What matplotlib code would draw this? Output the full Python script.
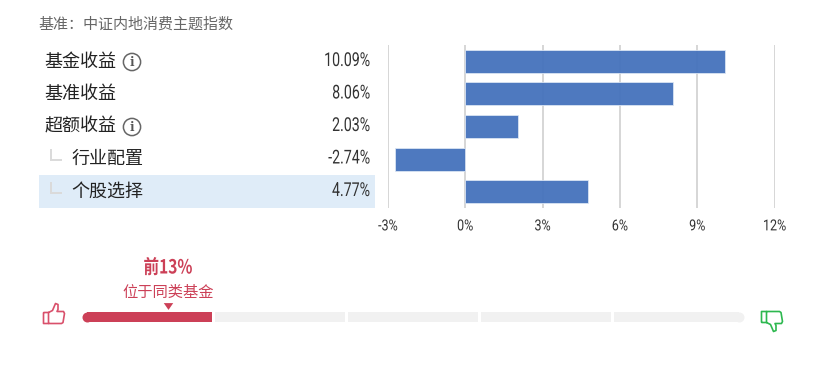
import matplotlib
matplotlib.use("Agg")
import matplotlib.pyplot as plt
from matplotlib.patches import Circle, PathPatch, Rectangle
from matplotlib.path import Path
from matplotlib.patheffects import AbstractPathEffect
from matplotlib.transforms import Affine2D

W, H = 834, 366
CJK = ['Noto Sans CJK SC', 'DejaVu Sans']
NUM = ['Roboto', 'Noto Sans CJK SC']

# ---- data ----
benchmark = "基准：中证内地消费主题指数"
labels = ["基金收益", "基准收益", "超额收益", "行业配置", "个股选择"]
values = [10.09, 8.06, 2.03, -2.74, 4.77]
value_labels = ["10.09%", "8.06%", "2.03%", "-2.74%", "4.77%"]
xticks = [-3, 0, 3, 6, 9, 12]
xtick_labels = ["-3%", "0%", "3%", "6%", "9%", "12%"]
rank_pct = 13
rank_title = "前13%"
rank_sub = "位于同类基金"
seg_starts = [0, 20.09, 40.18, 60.27, 80.36]
seg_width = 19.64


class Narrow(AbstractPathEffect):
    """Condense a real text horizontally about a fixed display x."""
    def __init__(self, anchor, sx):
        super().__init__()
        self.anchor, self.sx = anchor, sx

    def draw_path(self, renderer, gc, tpath, affine, rgbFace=None):
        t = affine + Affine2D().translate(-self.anchor, 0).scale(self.sx, 1).translate(self.anchor, 0)
        renderer.draw_path(gc, tpath, t, rgbFace)


fig = plt.figure(figsize=(W / 100, H / 100), dpi=100, facecolor='white')


def axpx(x0, y0, x1, y1):
    return fig.add_axes([x0 / W, 1 - y1 / H, (x1 - x0) / W, (y1 - y0) / H])


# overlay in pixel coordinates for table text and icons
ov = fig.add_axes([0, 0, 1, 1], zorder=0)
ov.set_xlim(0, W); ov.set_ylim(H, 0); ov.axis('off')

row_c = [60.5, 93, 125.5, 158, 190.5]
ov.add_patch(Rectangle((39, 175), 336, 33, fc='#DFECF8', ec='none'))
ov.text(38.5, 25, benchmark, family=CJK, fontsize=10.8, color='#666666', va='center', ha='left')
for i, (lab, vl) in enumerate(zip(labels, value_labels)):
    x = 44.5 if i < 3 else 71.5
    ov.text(x, row_c[i] + 1, lab, family=CJK, fontsize=13, color='#222222', va='center', ha='left')
    t = ov.text(370, row_c[i] + 0.5, vl, family=NUM, fontsize=13.8, color='#333333', va='center', ha='right')
    t.set_path_effects([Narrow(370, 0.74)])
for cy in (row_c[3], row_c[4]):
    ov.plot([51, 51, 62], [cy - 9, cy + 2, cy + 2], color='#DADADA', lw=1.4,
            solid_joinstyle='miter', solid_capstyle='butt')
for cy in (row_c[0] + 1.5, row_c[2] + 1.5):
    ov.add_patch(Circle((132, cy), 8.6, fc='none', ec='#666666', lw=1.1))
    ov.text(132, cy + 0.3, "i", family='DejaVu Serif', fontsize=8.5, weight='bold',
            color='#555555', ha='center', va='center')

# bar chart: -3% at px 388, 12% at px 774.5
ax = axpx(387.8, 45, 774.6, 208)
ax.patch.set_alpha(0)
ax.set_xlim(-3, 12)
ax.set_ylim(4.5, -0.5)
for s in ax.spines.values():
    s.set_visible(False)
ax.set_yticks([])
ax.set_xticks(xticks, xtick_labels, family=NUM, fontsize=11, color='#333333')
ax.tick_params(axis='x', length=0, pad=8.2)
ax.grid(axis='x', color='#D6D6D6', lw=1.4, zorder=0)
ax.set_axisbelow(True)
ax.barh(range(len(values)), values, height=0.7, color='#4472BC', alpha=0.95,
        edgecolor='#DCE6F4', linewidth=0.6, zorder=3)
for v, t in zip(xticks, ax.get_xticklabels()):
    t.set_path_effects([Narrow(ax.transData.transform((v, 0))[0], 0.82)])

# percentile bar: 0 at px 82, 100 at px 744
pb = axpx(82, 312, 744, 322)
pb.set_xlim(0, 100); pb.set_ylim(0, 1); pb.axis('off')
r = 0.755
for i, s in enumerate(seg_starts):
    a = s if i else r
    b = s + seg_width if i < len(seg_starts) - 1 else 100 - r
    pb.barh(0.5, b - a, left=a, height=1, color='#F1F1F1', lw=0)
pb.barh(0.5, seg_width - r, left=r, height=1, color='#CC4057', lw=0, zorder=3)
for xc, c in ((r, '#CC4057'), (100 - r, '#F1F1F1')):
    pb.plot([xc], [0.5], 'o', ms=7.2, color=c, mew=0, clip_on=False, zorder=3)
tri = [(-0.5, 0.36), (0.5, 0.36), (0, -0.36), (-0.5, 0.36)]
pb.plot([rank_pct], [1.65], marker=tri, ms=6.8, color='#CC4057', mew=0, clip_on=False)

t = ov.text(168, 268, rank_title, family=NUM[::-1], fontsize=14, weight='bold',
            color='#CC4057', ha='center', va='center')
t.set_path_effects([Narrow(168, 0.8)])
ov.text(168, 292, rank_sub, family=CJK, fontsize=11, color='#CC4057', ha='center', va='center')


# thumb icons
def thumb(xo, yo, color, flip=False):
    pts = [(0, 9), (5, 9), (5, 20), (0, 20), (0, 9),
           (5, 9), (9, 7), (12, 0), (14.5, 1), (14.5, 6), (13.5, 8), (20, 8),
           (21, 10), (19.5, 19), (18, 20), (5, 20)]
    if flip:
        pts = [(x, 20 - y) for x, y in pts]
    pts = [(xo + x, yo + y) for x, y in pts]
    codes = [Path.MOVETO] + [Path.LINETO] * 4 + [Path.MOVETO] + [Path.LINETO] * 10
    ov.add_patch(PathPatch(Path(pts, codes), fc='none', ec=color, lw=1.2, joinstyle='round'))


thumb(43.5, 303.5, '#D9506B')
thumb(761.5, 311.5, '#2DB84F', flip=True)

fig.savefig('out.png', dpi=100)
